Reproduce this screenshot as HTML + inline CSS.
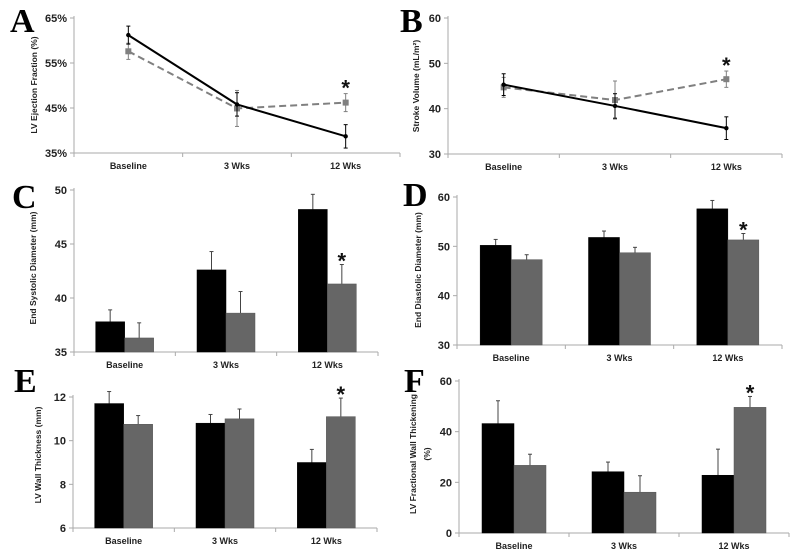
<!DOCTYPE html>
<html><head><meta charset="utf-8">
<style>
html,body{margin:0;padding:0;background:#fff;}
svg{display:block;font-family:"Liberation Sans",Arial,sans-serif;}
.tick{font-size:11px;font-weight:bold;fill:#222;}
.cat{font-size:9px;font-weight:bold;fill:#222;}
.ttl{font-size:8.5px;font-weight:bold;fill:#222;}
.letter{font-family:"Liberation Serif",serif;font-weight:bold;font-size:34px;fill:#000;}
</style></head>
<body>
<svg id="fig" width="799" height="558" xmlns="http://www.w3.org/2000/svg">
<text class="letter" x="10" y="32">A</text>
<text class="letter" x="400" y="32">B</text>
<text class="letter" x="12" y="208">C</text>
<text class="letter" x="403" y="206">D</text>
<text class="letter" x="14" y="392">E</text>
<text class="letter" x="404" y="392">F</text>
<text class="ttl" transform="translate(37,85) rotate(-90)" text-anchor="middle">LV Ejection Fraction (%)</text>
<text class="ttl" transform="translate(419,86) rotate(-90)" text-anchor="middle">Stroke Volume (mL/m²)</text>
<text class="ttl" transform="translate(36,268) rotate(-90)" text-anchor="middle">End Systolic Diameter (mm)</text>
<text class="ttl" transform="translate(421,270) rotate(-90)" text-anchor="middle">End Diastolic Diameter (mm)</text>
<text class="ttl" transform="translate(41,455) rotate(-90)" text-anchor="middle">LV Wall Thickness (mm)</text>
<text class="ttl" transform="translate(416,454) rotate(-90)" text-anchor="middle">LV Fractional Wall Thickening</text>
<text class="ttl" transform="translate(430,454) rotate(-90)" text-anchor="middle">(%)</text>
</svg>
<script>
const categories = ["Baseline","3 Wks","12 Wks"];
// Panel A (line)
const aTicks = ["35%","45%","55%","65%"];
const aBlack = [61.2,45.8,38.7];
const aBlackErr = [2.0,2.6,2.6];
const aGray = [57.6,44.9,46.2];
const aGrayErr = [1.8,4.0,2.0];
// Panel B (line)
const bTicks = ["30","40","50","60"];
const bBlack = [45.3,40.6,35.7];
const bBlackErr = [2.4,2.7,2.5];
const bGray = [44.7,41.9,46.5];
const bGrayErr = [2.2,4.2,1.8];
// Panel C (bars)
const cTicks = ["35","40","45","50"];
const cBlack = [37.8,42.6,48.2];
const cBlackErr = [1.1,1.7,1.4];
const cGray = [36.3,38.6,41.3];
const cGrayErr = [1.4,2.0,1.8];
// Panel D (bars)
const dTicks = ["30","40","50","60"];
const dBlack = [50.2,51.8,57.6];
const dBlackErr = [1.2,1.3,1.7];
const dGray = [47.3,48.7,51.3];
const dGrayErr = [1.0,1.1,1.3];
// Panel E (bars)
const eTicks = ["6","8","10","12"];
const eBlack = [11.7,10.8,9.0];
const eBlackErr = [0.55,0.4,0.6];
const eGray = [10.75,11.0,11.1];
const eGrayErr = [0.4,0.45,0.85];
// Panel F (bars)
const fTicks = ["0","20","40","60"];
const fBlack = [43.2,24.2,22.8];
const fBlackErr = [9.0,3.8,10.3];
const fGray = [26.7,16.1,49.6];
const fGrayErr = [4.4,6.5,4.3];

const NS = "http://www.w3.org/2000/svg";
const svg = document.getElementById("fig");
function mk(tag, attrs){const e=document.createElementNS(NS,tag);for(const k in attrs)e.setAttribute(k,attrs[k]);svg.appendChild(e);return e;}

function panel(p){
  const y = v => p.y0 + (v - p.vmin)/(p.vmax - p.vmin)*(p.y1 - p.y0);
  const step = (p.xEnd - p.ax)/3;
  const cx = i => p.ax + step*(i+0.5);
  let l = mk("line",{x1:p.ax,y1:p.y1-2,x2:p.ax,y2:p.y0,stroke:"#aaa","stroke-width":1});
  
  
  l = mk("line",{x1:p.ax-4,y1:p.y0,x2:p.xEnd,y2:p.y0,stroke:"#aaa","stroke-width":1});
  
  
  p.ticks.forEach((t,i)=>{
    const v = p.vmin + (p.vmax-p.vmin)*i/(p.ticks.length-1);
    const tk = mk("line",{x1:p.ax-4,y1:y(v),x2:p.ax,y2:y(v),stroke:"#aaa"});
    
    
    const tx = mk("text",{x:p.ax-7,y:y(v)+4,"text-anchor":"end",class:"tick"});
    tx.textContent = t;
    
    
  });
  for(let i=0;i<=3;i++){
    const xx = p.ax + step*i;
    const tk = mk("line",{x1:xx,y1:p.y0,x2:xx,y2:p.y0+4,stroke:"#aaa"});
    
    
  }
  categories.forEach((c,i)=>{
    const tx = mk("text",{x:cx(i),y:p.y0+16,"text-anchor":"middle",class:"cat"});
    tx.textContent = c;
    
    
  });
  if(p.type==="bar"){
    const bw = p.bw;
    [[p.black,p.blackErr,"#000",-1],[p.gray,p.grayErr,"#666",0]].forEach(([vals,errs,col,off],s)=>{
      vals.forEach((v,i)=>{
        const x0 = cx(i)+off*bw;
        const top = y(v);
        const eb = mk("line",{x1:x0+bw/2,y1:top,x2:x0+bw/2,y2:y(v+errs[i]),stroke:"#444","stroke-width":1});
        
        
        const cap = mk("line",{x1:x0+bw/2-2,y1:y(v+errs[i]),x2:x0+bw/2+2,y2:y(v+errs[i]),stroke:"#444","stroke-width":1});
        
        
        const r = mk("rect",{x:x0,y:top,width:bw,height:p.y0-top,fill:col,stroke:s?"#555":"#000","stroke-width":0.5});
        
        
      });
    });
    const sx = cx(2)+bw/2, sy = y(p.gray[2]+p.grayErr[2])-6;
    star(sx, sy, p.id);
  } else {
    [[p.gray,p.grayErr,"#808080","7,4"],[p.black,p.blackErr,"#000",null]].forEach(([vals,errs,col,dash])=>{
      vals.forEach((v,i)=>{
        const e = mk("line",{x1:cx(i),y1:y(v-errs[i]),x2:cx(i),y2:y(v+errs[i]),stroke:col,"stroke-width":1});
        
        
        [v-errs[i],v+errs[i]].forEach(w=>{
          const c = mk("line",{x1:cx(i)-2,y1:y(w),x2:cx(i)+2,y2:y(w),stroke:col});
          
          
        });
      });
      const pts = vals.map((v,i)=>cx(i)+","+y(v)).join(" ");
      const pl = mk("polyline",{points:pts,fill:"none",stroke:col,"stroke-width":2});
      if(dash) pl.setAttribute("stroke-dasharray",dash);
      
      
      vals.forEach((v,i)=>{
        const m = dash ? mk("rect",{x:cx(i)-3,y:y(v)-3,width:6,height:6,fill:col})
                       : mk("circle",{cx:cx(i),cy:y(v),r:2.2,fill:col});
        
        
      });
    });
    star(cx(2), y(p.gray[2]+p.grayErr[2])-8, p.id);
  }
}
function star(x,y,id){
  const s = mk("text",{x:x,y:y+10,"text-anchor":"middle","font-size":"22","font-weight":"bold",fill:"#111"});
  s.textContent="*";
  
  
}
panel({id:"a",type:"line",ax:74,xEnd:400,y0:153,y1:18,vmin:35,vmax:65,ticks:aTicks,black:aBlack,blackErr:aBlackErr,gray:aGray,grayErr:aGrayErr});
panel({id:"b",type:"line",ax:448,xEnd:782,y0:154,y1:18,vmin:30,vmax:60,ticks:bTicks,black:bBlack,blackErr:bBlackErr,gray:bGray,grayErr:bGrayErr});
panel({id:"c",type:"bar",ax:74,xEnd:378,y0:352,y1:190,vmin:35,vmax:50,bw:29,ticks:cTicks,black:cBlack,blackErr:cBlackErr,gray:cGray,grayErr:cGrayErr});
panel({id:"d",type:"bar",ax:457,xEnd:782,y0:345,y1:197,vmin:30,vmax:60,bw:31,ticks:dTicks,black:dBlack,blackErr:dBlackErr,gray:dGray,grayErr:dGrayErr});
panel({id:"e",type:"bar",ax:73,xEnd:377,y0:528,y1:397,vmin:6,vmax:12,bw:29,ticks:eTicks,black:eBlack,blackErr:eBlackErr,gray:eGray,grayErr:eGrayErr});
panel({id:"f",type:"bar",ax:459,xEnd:789,y0:533,y1:381,vmin:0,vmax:60,bw:32,ticks:fTicks,black:fBlack,blackErr:fBlackErr,gray:fGray,grayErr:fGrayErr});
</script>
</body></html>
